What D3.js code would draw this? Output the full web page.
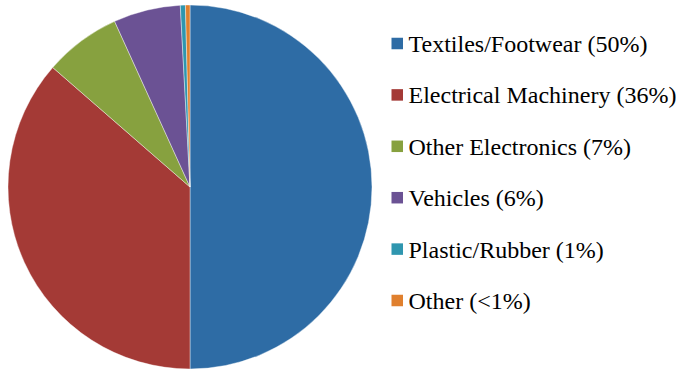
<!DOCTYPE html>
<html><head><meta charset="utf-8">
<script src="https://cdn.jsdelivr.net/npm/d3@7"></script>
<style>body{margin:0;background:#fff}</style>
</head><body>
<script>
const categories = ["Textiles/Footwear (50%)","Electrical Machinery (36%)","Other Electronics (7%)","Vehicles (6%)","Plastic/Rubber (1%)","Other (<1%)"];
const values = [50, 36.4, 6.8, 5.95, 0.45, 0.4];
const colors = ["#2E6CA5","#A43A36","#87A13F","#6B5294","#2F96AF","#E0802E"];

const W = 676, H = 369;
const svg = d3.select("body").append("svg").attr("width", W).attr("height", H);
const cx = 190, cy = 187, r = 182;
const pie = d3.pie().sort(null).value(d => d)(values);
const arc = d3.arc().innerRadius(0).outerRadius(r);
svg.selectAll("path").data(pie).join("path")
  .attr("transform", `translate(${cx},${cy})`)
  .attr("d", arc).attr("fill", (d,i) => colors[i])
  .attr("stroke", "#fff").attr("stroke-width", 0.4);

const y = d3.scalePoint().domain(categories).range([43.5, 300.5]);
svg.selectAll("rect").data(categories).join("rect")
  .attr("x", 391.5).attr("y", d => y(d) - 5.75).attr("width", 11.5).attr("height", 11.5)
  .attr("fill", (d,i) => colors[i]);
svg.selectAll("text").data(categories).join("text")
  .attr("x", 408.5).attr("y", d => y(d) + 8.5)
  .style("font-family", d => `"Liberation Serif"`)
  .style("font-size", "24px").text(d => d);
</script>
</body></html>
